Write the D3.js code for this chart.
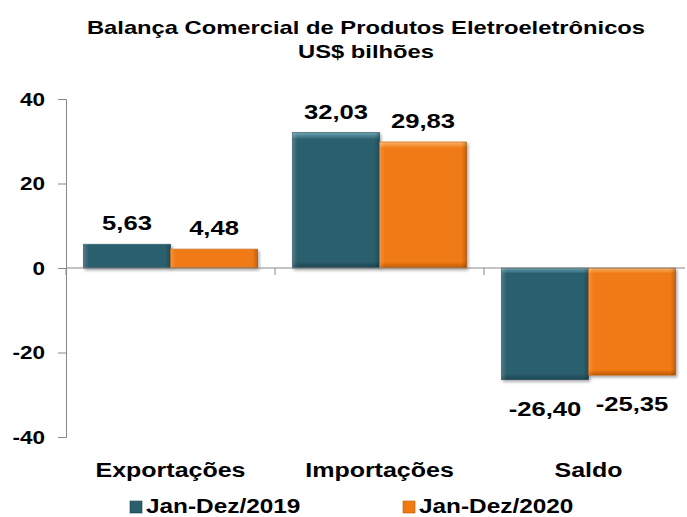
<!DOCTYPE html>
<html>
<head>
<meta charset="utf-8">
<script src="https://cdn.jsdelivr.net/npm/d3@7"></script>
<style>
  body { margin: 0; background: #fff; }
  text { font-family: "Liberation Sans", Arial, sans-serif; font-weight: bold; fill: #000; }
</style>
</head>
<body>
<div id="chart"></div>
<script>
const categories = ['Exportações', 'Importações', 'Saldo'];
const seriesNames = ['Jan-Dez/2019', 'Jan-Dez/2020'];
const values2019 = [5.63, 32.03, -26.40];
const values2020 = [4.48, 29.83, -25.35];
const yTicks = [-40, -20, 0, 20, 40];

const width = 687, height = 517;
const stretch = 1.25; // text in the original is drawn wide
const colors = ['#2b5f6e', '#f07a12'];
const light = ['#6aa3b2', '#fbb26a'];
const dark = ['#1a4250', '#c25a00'];

const svg = d3.select('#chart').append('svg')
  .attr('width', width)
  .attr('height', height);

const defs = svg.append('defs');
colors.forEach((c, i) => {
  const g = defs.append('linearGradient').attr('id', 'grad' + i)
    .attr('x1', 0).attr('y1', 0).attr('x2', 0).attr('y2', 1);
  g.append('stop').attr('offset', '0%').attr('stop-color', light[i]);
  g.append('stop').attr('offset', '5%').attr('stop-color', c);
  g.append('stop').attr('offset', '95%').attr('stop-color', c);
  g.append('stop').attr('offset', '100%').attr('stop-color', dark[i]);
});
// side bevel overlay
const side = defs.append('linearGradient').attr('id', 'side')
  .attr('x1', 0).attr('y1', 0).attr('x2', 1).attr('y2', 0);
side.append('stop').attr('offset', '0%').attr('stop-color', '#fff').attr('stop-opacity', 0.18);
side.append('stop').attr('offset', '6%').attr('stop-color', '#fff').attr('stop-opacity', 0);
side.append('stop').attr('offset', '94%').attr('stop-color', '#000').attr('stop-opacity', 0);
side.append('stop').attr('offset', '100%').attr('stop-color', '#000').attr('stop-opacity', 0.2);

const f = defs.append('filter').attr('id', 'shadow')
  .attr('x', '-10%').attr('y', '-10%').attr('width', '130%').attr('height', '130%');
f.append('feDropShadow').attr('dx', 1.5).attr('dy', 2).attr('stdDeviation', 1.5)
  .attr('flood-color', '#000').attr('flood-opacity', 0.35);

const x0 = d3.scaleBand().domain(categories).range([66, 693]).paddingInner(0).paddingOuter(0);
const x1 = d3.scaleBand().domain(seriesNames).range([0, x0.bandwidth()]).paddingOuter(0.2).paddingInner(0);
const y = d3.scaleLinear().domain([-40, 40]).range([437, 99]);

function wideText(sel, x, y, size, anchor) {
  return sel.append('text')
    .attr('transform', `translate(${x},${y}) scale(${stretch},1)`)
    .attr('text-anchor', anchor || 'middle')
    .style('font-size', size + 'px');
}

// title
wideText(svg, 366, 34, 19, 'middle').text('Balança Comercial de Produtos Eletroeletrônicos');
wideText(svg, 366, 58, 19, 'middle').text('US$ bilhões');

// y axis
const yAxis = svg.append('g').attr('transform', 'translate(66,0)')
  .call(d3.axisLeft(y).tickValues(yTicks).tickSize(8).tickFormat(d => String(d)));
yAxis.select('.domain').attr('stroke', '#888');
yAxis.selectAll('.tick line').attr('stroke', '#888');
yAxis.selectAll('.tick text').remove();
yAxis.selectAll('.tick').each(function (d) {
  wideText(d3.select(this), -21, 6, 18, 'end').text(String(d));
});

const series = [values2019, values2020];
const data = categories.map((c, i) => ({ cat: c, vals: seriesNames.map((s, j) => ({ s, j, v: series[j][i] })) }));

const groups = svg.append('g').selectAll('g').data(data).join('g')
  .attr('transform', d => `translate(${x0(d.cat)},0)`);

const bar = groups.selectAll('g.bar').data(d => d.vals).join('g').attr('class', 'bar');
bar.append('rect')
  .attr('x', d => x1(d.s))
  .attr('width', x1.bandwidth())
  .attr('y', d => y(Math.max(0, d.v)))
  .attr('height', d => Math.abs(y(d.v) - y(0)))
  .attr('fill', d => `url(#grad${d.j})`)
  .attr('stroke', d => dark[d.j]).attr('stroke-width', 0.6)
  .attr('filter', 'url(#shadow)');
bar.append('rect')
  .attr('x', d => x1(d.s))
  .attr('width', x1.bandwidth())
  .attr('y', d => y(Math.max(0, d.v)))
  .attr('height', d => Math.abs(y(d.v) - y(0)))
  .attr('fill', 'url(#side)');

bar.each(function (d) {
  const ty = d.v >= 0 ? y(d.v) - 14 : y(d.v) + 36;
  wideText(d3.select(this), x1(d.s) + x1.bandwidth() / 2, ty, 20.5, 'middle')
    .text(d.v.toFixed(2).replace('.', ','));
});

// x axis
const xAxis = svg.append('g').attr('transform', `translate(0,${y(0)})`);
xAxis.append('line').attr('x1', 66).attr('x2', 685).attr('stroke', '#888');
xAxis.selectAll('line.tick').data(categories).join('line').attr('class', 'tick')
  .attr('x1', d => x0(d)).attr('x2', d => x0(d)).attr('y1', 0).attr('y2', 7).attr('stroke', '#888');

categories.forEach(c => {
  wideText(svg, x0(c) + x0.bandwidth() / 2, 477, 20, 'middle').text(c);
});

// legend
const legX = [130, 403];
seriesNames.forEach((s, i) => {
  const g = svg.append('g').attr('transform', `translate(${legX[i]},513)`);
  g.append('rect').attr('x', 0).attr('y', -12).attr('width', 12).attr('height', 12)
    .attr('fill', `url(#grad${i})`).attr('stroke', dark[i]).attr('stroke-width', 0.6);
  wideText(g, 16, 0, 19.5, 'start').text(s);
});
</script>
</body>
</html>
